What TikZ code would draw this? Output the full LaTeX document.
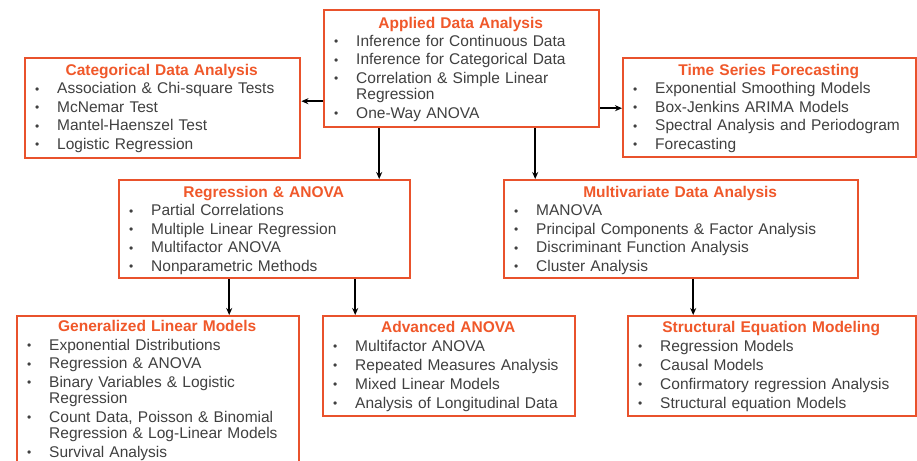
\documentclass[tikz,border=0pt]{standalone}
\usepackage{fontspec}
\setmainfont{Liberation Sans}
\usepackage{xcolor}
\usetikzlibrary{arrows.meta, positioning}
\definecolor{boxred}{HTML}{E9522C}
\definecolor{titlered}{HTML}{F0582A}
\definecolor{itemgray}{HTML}{404040}
\tikzstyle{arrow} = [line width=1.8pt,-{Stealth[length=7pt,width=6pt]}]
\newcommand{\ttl}[1]{\hfill{\bfseries\color{titlered}#1}\hfill\null}
\newcommand{\itm}[1]{\hspace*{11pt}\makebox[22pt][l]{\raisebox{0.8pt}{\fontsize{12}{12}\selectfont\textbullet}}#1}
\newcommand{\cnt}{\hspace*{33pt}}

\begin{document}
\begin{tikzpicture}[
        x=1pt, y=-1pt,
        font=\fontsize{15.5}{16.5}\selectfont,
        box/.style={draw=boxred, line width=2.4pt, anchor=north west, inner sep=0pt, fill=white},
        txt/.style={anchor=north west, inner sep=0pt, align=left, text=itemgray}
    ]
        \clip (0,0) rectangle (917,460);
        \fill[white] (0,0) rectangle (917,460);

        % Boxes
        \node[box, minimum width=275pt, minimum height=117pt] (applied) at (323,9) {};
        \node[box, minimum width=275pt, minimum height=100pt] (categorical) at (24,57) {};
        \node[box, minimum width=293pt, minimum height=99pt] (timeseries) at (622,57) {};
        \node[box, minimum width=291pt, minimum height=98pt] (regression) at (118,179) {};
        \node[box, minimum width=354pt, minimum height=98pt] (multivariate) at (503,179) {};
        \node[box, minimum width=282pt, minimum height=170pt] (glm) at (16,315) {};
        \node[box, minimum width=252pt, minimum height=100pt] (advanced) at (322,315) {};
        \node[box, minimum width=288pt, minimum height=100pt] (sem) at (627,315) {};

        % Box contents
        \node[txt, text width=275pt] (appliedtxt) at ([yshift=-8pt]applied.north west) {
            \ttl{Applied Data Analysis}\\[1.5pt]
            \itm{Inference for Continuous Data}\\[2pt]
            \itm{Inference for Categorical Data}\\[2pt]
            \itm{Correlation \& Simple Linear}\\
            \cnt Regression\\[2pt]
            \itm{One-Way ANOVA}
        };
        \node[txt, text width=275pt] (categoricaltxt) at ([yshift=-7pt]categorical.north west) {
            \ttl{Categorical Data Analysis}\\[2pt]
            \itm{Association \& Chi-square Tests}\\[2pt]
            \itm{McNemar Test}\\[2pt]
            \itm{Mantel-Haenszel Test}\\[2pt]
            \itm{Logistic Regression}
        };
        \node[txt, text width=293pt] (timeseriestxt) at ([yshift=-7pt]timeseries.north west) {
            \ttl{Time Series Forecasting}\\[2pt]
            \itm{Exponential Smoothing Models}\\[2pt]
            \itm{Box-Jenkins ARIMA Models}\\[2pt]
            \itm{Spectral Analysis and Periodogram}\\[2pt]
            \itm{Forecasting}
        };
        \node[txt, text width=291pt] (regressiontxt) at ([yshift=-7pt]regression.north west) {
            \ttl{Regression \& ANOVA}\\[2pt]
            \itm{Partial Correlations}\\[2pt]
            \itm{Multiple Linear Regression}\\[2pt]
            \itm{Multifactor ANOVA}\\[2pt]
            \itm{Nonparametric Methods}
        };
        \node[txt, text width=354pt] (multivariatetxt) at ([yshift=-7pt]multivariate.north west) {
            \ttl{Multivariate Data Analysis}\\[2pt]
            \itm{MANOVA}\\[2pt]
            \itm{Principal Components \& Factor Analysis}\\[2pt]
            \itm{Discriminant Function Analysis}\\[2pt]
            \itm{Cluster Analysis}
        };
        \node[txt, text width=282pt] (glmtxt) at ([yshift=-5.5pt]glm.north west) {
            \ttl{Generalized Linear Models}\\[2pt]
            \itm{Exponential Distributions}\\[2pt]
            \itm{Regression \& ANOVA}\\[2pt]
            \itm{Binary Variables \& Logistic}\\
            \cnt Regression\\[2pt]
            \itm{Count Data, Poisson \& Binomial}\\
            \cnt Regression \& Log-Linear Models\\[2pt]
            \itm{Survival Analysis}
        };
        \node[txt, text width=252pt] (advancedtxt) at ([yshift=-6pt]advanced.north west) {
            \ttl{Advanced ANOVA}\\[2.5pt]
            \itm{Multifactor ANOVA}\\[2.5pt]
            \itm{Repeated Measures Analysis}\\[2.5pt]
            \itm{Mixed Linear Models}\\[2.5pt]
            \itm{Analysis of Longitudinal Data}
        };
        \node[txt, text width=288pt] (semtxt) at ([yshift=-6pt]sem.north west) {
            \ttl{Structural Equation Modeling}\\[2.5pt]
            \itm{Regression Models}\\[2.5pt]
            \itm{Causal Models}\\[2.5pt]
            \itm{Confirmatory regression Analysis}\\[2.5pt]
            \itm{Structural equation Models}
        };

        % Arrows
        \draw[arrow] ([yshift=-32.5pt]applied.west) -- ([yshift=-32.5pt]applied.west -| categorical.east);
        \draw[arrow] ([yshift=-39.5pt]applied.east) -- ([yshift=-39.5pt]applied.east -| timeseries.west);
        \draw[arrow] ([xshift=-82.5pt]applied.south) -- ([xshift=-82.5pt]applied.south |- regression.north);
        \draw[arrow] ([xshift=73.5pt]applied.south) -- ([xshift=73.5pt]applied.south |- multivariate.north);
        \draw[arrow] ([xshift=-35.5pt]regression.south) -- ([xshift=-35.5pt]regression.south |- glm.north);
        \draw[arrow] ([xshift=90.5pt]regression.south) -- ([xshift=90.5pt]regression.south |- advanced.north);
        \draw[arrow] ([xshift=12pt]multivariate.south) -- ([xshift=12pt]multivariate.south |- sem.north);
    \end{tikzpicture}
\end{document}
